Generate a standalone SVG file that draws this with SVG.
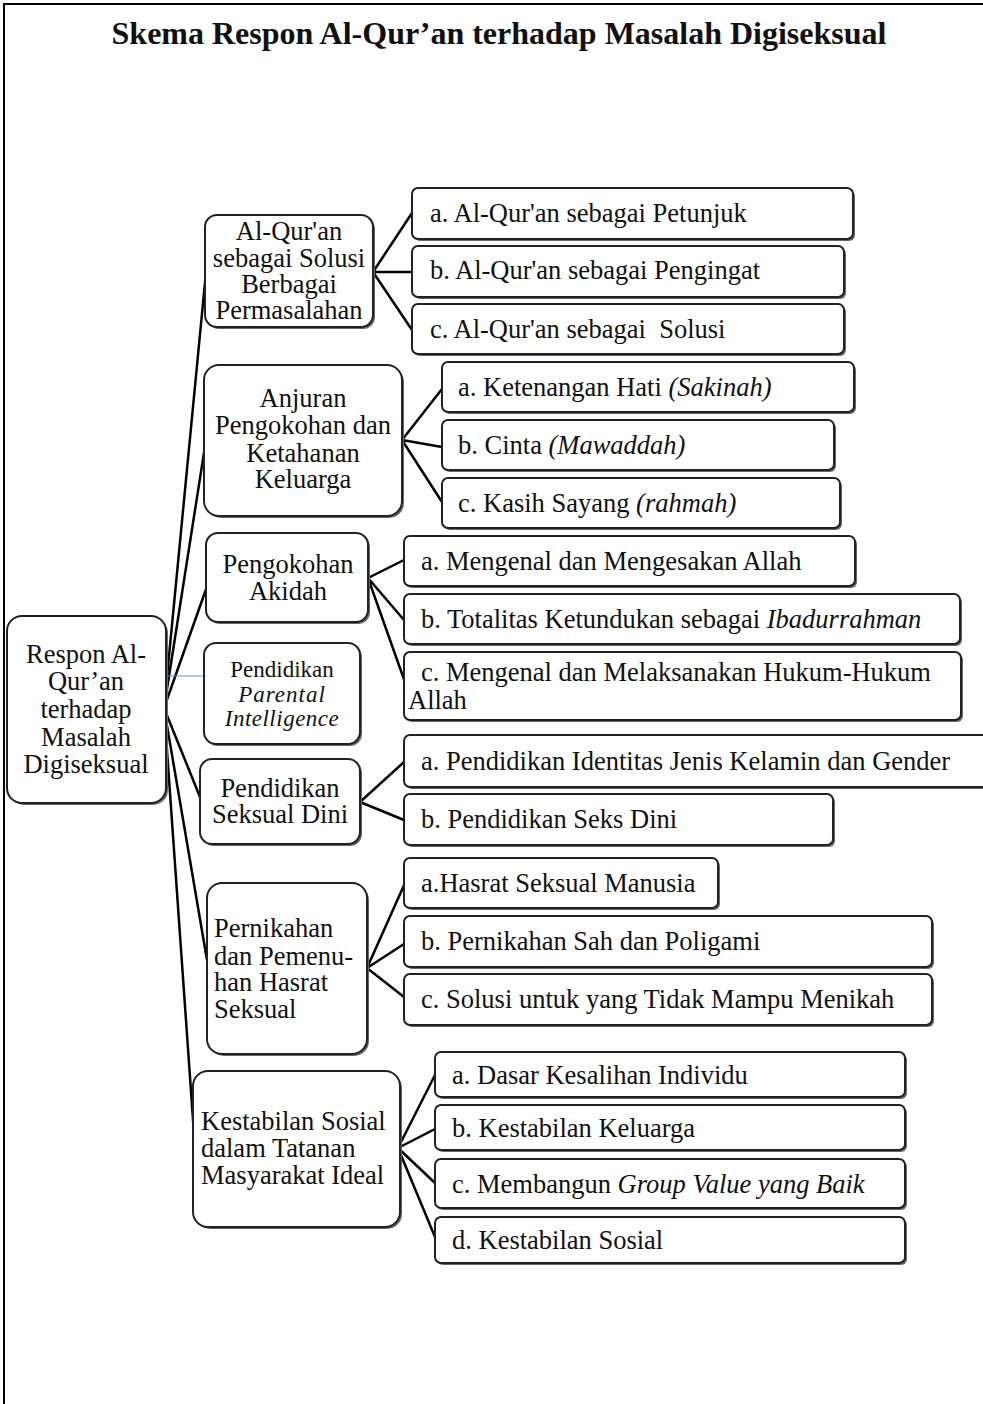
<svg xmlns="http://www.w3.org/2000/svg" width="983" height="1404" viewBox="0 0 983 1404">
  <style>
    text { font-family: "Liberation Serif", "Times New Roman", serif; font-size: 26.5px; fill: #111; white-space: pre; }
    .title { font-size: 32px; font-weight: bold; }
    .small { font-size: 23px; }
    .it { font-style: italic; }
    .box { fill: #fff; stroke: #222; stroke-width: 2; }
    .shadow { fill: #666; }
    .conn { stroke: #000; stroke-width: 2.5; fill: none; stroke-linecap: round; }
    .thin { stroke: #5b9bd5; stroke-width: 1.2; fill: none; }
    .frame { stroke: #000; stroke-width: 2; fill: none; }
  </style>

  <!-- page frame -->
  <path class="frame" d="M4 1404 V4 H983"/>

  <text class="title" x="499" y="44" text-anchor="middle">Skema Respon Al-Qur’an terhadap Masalah Digiseksual</text>

  <!-- connectors -->
  <g id="connectors">
    <!-- root to branches -->
    <path class="conn" d="M164 708 L206 272"/>
    <path class="conn" d="M164 708 L206 440"/>
    <path class="conn" d="M164 708 L210 578"/>
    <path class="conn" d="M164 708 L202 802"/>
    <path class="conn" d="M164 708 L207 960"/>
    <path class="conn" d="M164 708 L195 1148"/>
    <path class="thin" d="M166 676 H203"/>
    <!-- Al-Qur'an sebagai Solusi -->
    <path class="conn" d="M373 272 L412 213 M373 272 L412 272 M373 272 L412 330"/>
    <!-- Ketahanan Keluarga -->
    <path class="conn" d="M402 440 L442 389 M402 440 L442 447 M402 440 L442 502"/>
    <!-- Pengokohan Akidah -->
    <path class="conn" d="M368 578 L404 560 M368 578 L404 620 M368 578 L406 685"/>
    <!-- Pendidikan Seksual Dini -->
    <path class="conn" d="M360 802 L404 762 M360 802 L404 820"/>
    <!-- Pernikahan -->
    <path class="conn" d="M367 968 L405 883 M367 968 L404 944 M367 968 L404 997"/>
    <!-- Kestabilan Sosial -->
    <path class="conn" d="M398 1148 L435 1075 M398 1148 L435 1129 M398 1148 L435 1183 M398 1148 L435 1237"/>
  </g>

  <!-- root -->
  <g id="root">
    <rect class="shadow" x="9" y="618" width="159" height="187" rx="15"/>
    <rect class="box" x="7" y="616" width="159" height="187" rx="15"/>
    <text x="86" text-anchor="middle"><tspan x="86" y="663">Respon Al-</tspan><tspan x="86" y="690">Qur’an</tspan><tspan x="86" y="718">terhadap</tspan><tspan x="86" y="746">Masalah</tspan><tspan x="86" y="773">Digiseksual</tspan></text>
  </g>

  <!-- branch 1 -->
  <g id="n-solusi">
    <rect class="shadow" x="207" y="217" width="168" height="112" rx="12"/>
    <rect class="box" x="205" y="215" width="168" height="112" rx="12"/>
    <text text-anchor="middle"><tspan x="289" y="240">Al-Qur'an</tspan><tspan x="289" y="267">sebagai Solusi</tspan><tspan x="289" y="293">Berbagai</tspan><tspan x="289" y="319">Permasalahan</tspan></text>
  </g>
  <g id="n-solusi-a">
    <rect class="shadow" x="414" y="190" width="441" height="51" rx="6"/>
    <rect class="box" x="412" y="188" width="441" height="51" rx="6"/>
    <text x="430" y="222">a. Al-Qur'an sebagai Petunjuk</text>
  </g>
  <g id="n-solusi-b">
    <rect class="shadow" x="414" y="248" width="432" height="51" rx="6"/>
    <rect class="box" x="412" y="246" width="432" height="51" rx="6"/>
    <text x="430" y="279">b. Al-Qur'an sebagai Pengingat</text>
  </g>
  <g id="n-solusi-c">
    <rect class="shadow" x="414" y="306" width="432" height="50" rx="6"/>
    <rect class="box" x="412" y="304" width="432" height="50" rx="6"/>
    <text x="430" y="338">c. Al-Qur'an sebagai  Solusi</text>
  </g>

  <!-- branch 2 -->
  <g id="n-keluarga">
    <rect class="shadow" x="206" y="367" width="198" height="151" rx="15"/>
    <rect class="box" x="204" y="365" width="198" height="151" rx="15"/>
    <text text-anchor="middle"><tspan x="303" y="407">Anjuran</tspan><tspan x="303" y="434">Pengokohan dan</tspan><tspan x="303" y="462">Ketahanan</tspan><tspan x="303" y="488">Keluarga</tspan></text>
  </g>
  <g id="n-keluarga-a">
    <rect class="shadow" x="444" y="364" width="412" height="50" rx="6"/>
    <rect class="box" x="442" y="362" width="412" height="50" rx="6"/>
    <text x="458" y="396">a. Ketenangan Hati <tspan class="it">(Sakinah)</tspan></text>
  </g>
  <g id="n-keluarga-b">
    <rect class="shadow" x="444" y="422" width="392" height="50" rx="6"/>
    <rect class="box" x="442" y="420" width="392" height="50" rx="6"/>
    <text x="458" y="454">b. Cinta <tspan class="it">(Mawaddah)</tspan></text>
  </g>
  <g id="n-keluarga-c">
    <rect class="shadow" x="444" y="480" width="398" height="50" rx="6"/>
    <rect class="box" x="442" y="478" width="398" height="50" rx="6"/>
    <text x="458" y="512">c. Kasih Sayang <tspan class="it">(rahmah)</tspan></text>
  </g>

  <!-- branch 3 -->
  <g id="n-akidah">
    <rect class="shadow" x="208" y="535" width="162" height="89" rx="12"/>
    <rect class="box" x="206" y="533" width="162" height="89" rx="12"/>
    <text text-anchor="middle"><tspan x="288" y="573">Pengokohan</tspan><tspan x="288" y="600">Akidah</tspan></text>
  </g>
  <g id="n-akidah-a">
    <rect class="shadow" x="406" y="538" width="451" height="50" rx="6"/>
    <rect class="box" x="404" y="536" width="451" height="50" rx="6"/>
    <text x="421" y="570">a. Mengenal dan Mengesakan Allah</text>
  </g>
  <g id="n-akidah-b">
    <rect class="shadow" x="406" y="596" width="556" height="50" rx="6"/>
    <rect class="box" x="404" y="594" width="556" height="50" rx="6"/>
    <text x="421" y="628">b. Totalitas Ketundukan sebagai <tspan class="it">Ibadurrahman</tspan></text>
  </g>
  <g id="n-akidah-c">
    <rect class="shadow" x="406" y="654" width="557" height="68" rx="6"/>
    <rect class="box" x="404" y="652" width="557" height="68" rx="6"/>
    <text><tspan x="421" y="681">c. Mengenal dan Melaksanakan Hukum-Hukum</tspan><tspan x="408" y="709">Allah</tspan></text>
  </g>

  <!-- branch 4 -->
  <g id="n-parental">
    <rect class="shadow" x="206" y="645" width="156" height="101" rx="12"/>
    <rect class="box" x="204" y="643" width="156" height="101" rx="12"/>
    <text class="small" text-anchor="middle"><tspan x="282" y="677">Pendidikan</tspan><tspan class="it" x="282" y="702" letter-spacing="1">Parental</tspan><tspan class="it" x="282" y="726" letter-spacing="0.5">Intelligence</tspan></text>
  </g>

  <!-- branch 5 -->
  <g id="n-seksual">
    <rect class="shadow" x="202" y="761" width="160" height="85" rx="12"/>
    <rect class="box" x="200" y="759" width="160" height="85" rx="12"/>
    <text text-anchor="middle"><tspan x="280" y="797">Pendidikan</tspan><tspan x="280" y="823">Seksual Dini</tspan></text>
  </g>
  <g id="n-seksual-a">
    <rect class="shadow" x="406" y="737" width="600" height="52" rx="6"/>
    <rect class="box" x="404" y="735" width="600" height="52" rx="6"/>
    <text x="421" y="770">a. Pendidikan Identitas Jenis Kelamin dan Gender</text>
  </g>
  <g id="n-seksual-b">
    <rect class="shadow" x="406" y="796" width="429" height="51" rx="6"/>
    <rect class="box" x="404" y="794" width="429" height="51" rx="6"/>
    <text x="421" y="828">b. Pendidikan Seks Dini</text>
  </g>

  <!-- branch 6 -->
  <g id="n-nikah">
    <rect class="shadow" x="209" y="885" width="160" height="171" rx="15"/>
    <rect class="box" x="207" y="883" width="160" height="171" rx="15"/>
    <text><tspan x="214" y="937">Pernikahan</tspan><tspan x="214" y="965">dan Pemenu-</tspan><tspan x="214" y="991">han Hasrat</tspan><tspan x="214" y="1018">Seksual</tspan></text>
  </g>
  <g id="n-nikah-a">
    <rect class="shadow" x="406" y="860" width="314" height="50" rx="6"/>
    <rect class="box" x="404" y="858" width="314" height="50" rx="6"/>
    <text x="421" y="892">a.Hasrat Seksual Manusia</text>
  </g>
  <g id="n-nikah-b">
    <rect class="shadow" x="406" y="918" width="528" height="51" rx="6"/>
    <rect class="box" x="404" y="916" width="528" height="51" rx="6"/>
    <text x="421" y="950">b. Pernikahan Sah dan Poligami</text>
  </g>
  <g id="n-nikah-c">
    <rect class="shadow" x="406" y="976" width="528" height="51" rx="6"/>
    <rect class="box" x="404" y="974" width="528" height="51" rx="6"/>
    <text x="421" y="1008">c. Solusi untuk yang Tidak Mampu Menikah</text>
  </g>

  <!-- branch 7 -->
  <g id="n-sosial">
    <rect class="shadow" x="195" y="1073" width="207" height="156" rx="15"/>
    <rect class="box" x="193" y="1071" width="207" height="156" rx="15"/>
    <text><tspan x="201" y="1130">Kestabilan Sosial</tspan><tspan x="201" y="1157">dalam Tatanan</tspan><tspan x="201" y="1184">Masyarakat Ideal</tspan></text>
  </g>
  <g id="n-sosial-a">
    <rect class="shadow" x="437" y="1054" width="470" height="45" rx="6"/>
    <rect class="box" x="435" y="1052" width="470" height="45" rx="6"/>
    <text x="452" y="1084">a. Dasar Kesalihan Individu</text>
  </g>
  <g id="n-sosial-b">
    <rect class="shadow" x="437" y="1107" width="470" height="45" rx="6"/>
    <rect class="box" x="435" y="1105" width="470" height="45" rx="6"/>
    <text x="452" y="1137">b. Kestabilan Keluarga</text>
  </g>
  <g id="n-sosial-c">
    <rect class="shadow" x="437" y="1161" width="470" height="49" rx="6"/>
    <rect class="box" x="435" y="1159" width="470" height="49" rx="6"/>
    <text x="452" y="1193">c. Membangun <tspan class="it">Group Value yang Baik</tspan></text>
  </g>
  <g id="n-sosial-d">
    <rect class="shadow" x="437" y="1219" width="470" height="46" rx="6"/>
    <rect class="box" x="435" y="1217" width="470" height="46" rx="6"/>
    <text x="452" y="1249">d. Kestabilan Sosial</text>
  </g>
</svg>
